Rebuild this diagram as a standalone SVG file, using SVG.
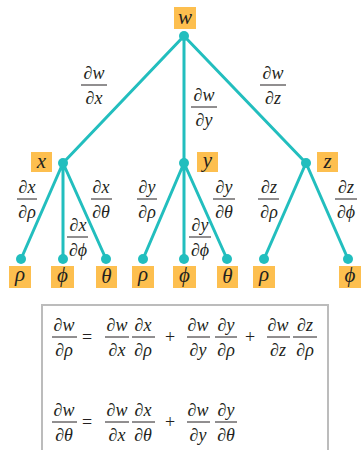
<svg xmlns="http://www.w3.org/2000/svg" width="361" height="450" viewBox="0 0 361 450">
<style>
.t{font-family:'Liberation Serif',serif;font-size:18px;fill:#231f20;text-anchor:middle}
.b{font-size:21px}
.i{font-style:italic}
.box{fill:#fdbf4f}
.bar{stroke:#231f20;stroke-width:1}
.e{stroke:#22bebe;stroke-width:3;fill:none}
.dot{fill:#22bebe}
</style>
<rect width="361" height="450" fill="#fff"/>
<g id="connectors">
<path class="e" d="M184,36L63,163M184,36L184,163M184,36L306,163M63,163L21,259M63,163L63,259M63,163L106,259M184,163L143,259M184,163L184,259M184,163L227,259M306,163L264,259M306,163L348,259"/>
</g>
<g id="n-w"><rect class="box" x="174" y="7" width="22" height="22"/><text class="t b i" x="185" y="24">w</text><circle class="dot" cx="184" cy="36" r="5"/></g>
<g id="n-x"><rect class="box" x="31" y="152" width="21" height="20"/><text class="t b i" x="41.5" y="168">x</text><circle class="dot" cx="63" cy="163" r="5"/></g>
<g id="n-y"><rect class="box" x="197" y="152" width="21" height="20"/><text class="t b i" x="207.5" y="167">y</text><circle class="dot" cx="184" cy="163" r="5"/></g>
<g id="n-z"><rect class="box" x="317" y="152" width="21" height="20"/><text class="t b i" x="327.5" y="168">z</text><circle class="dot" cx="306" cy="163" r="5"/></g>
<g id="n-rho1"><rect class="box" x="9" y="266" width="22" height="22"/><text class="t b i" x="20" y="281">ρ</text><circle class="dot" cx="21" cy="259" r="5"/></g>
<g id="n-phi1"><rect class="box" x="51" y="266" width="23" height="22"/><text class="t b i" x="62.5" y="282">ϕ</text><circle class="dot" cx="63" cy="259" r="5"/></g>
<g id="n-theta1"><rect class="box" x="96" y="266" width="21" height="22"/><text class="t b i" x="106.5" y="283">θ</text><circle class="dot" cx="106" cy="259" r="5"/></g>
<g id="n-rho2"><rect class="box" x="132" y="266" width="22" height="22"/><text class="t b i" x="143" y="281">ρ</text><circle class="dot" cx="143" cy="259" r="5"/></g>
<g id="n-phi2"><rect class="box" x="173" y="266" width="23" height="22"/><text class="t b i" x="184.5" y="282">ϕ</text><circle class="dot" cx="184" cy="259" r="5"/></g>
<g id="n-theta2"><rect class="box" x="217" y="266" width="21" height="22"/><text class="t b i" x="227.5" y="283">θ</text><circle class="dot" cx="227" cy="259" r="5"/></g>
<g id="n-rho3"><rect class="box" x="253" y="266" width="22" height="22"/><text class="t b i" x="264" y="281">ρ</text><circle class="dot" cx="264" cy="259" r="5"/></g>
<g id="n-phi3"><rect class="box" x="339" y="266" width="22" height="22"/><text class="t b i" x="350" y="282">ϕ</text><circle class="dot" cx="348" cy="259" r="5"/></g>
<g id="labels">
<text class="t" x="94" y="79">∂<tspan class="i">w</tspan></text><line class="bar" x1="81" y1="85" x2="107" y2="85"/><text class="t" x="94" y="104">∂<tspan class="i">x</tspan></text>
<text class="t" x="204" y="101">∂<tspan class="i">w</tspan></text><line class="bar" x1="191" y1="107" x2="217" y2="107"/><text class="t" x="204" y="126">∂<tspan class="i">y</tspan></text>
<text class="t" x="273" y="79">∂<tspan class="i">w</tspan></text><line class="bar" x1="260" y1="85" x2="286" y2="85"/><text class="t" x="273" y="104">∂<tspan class="i">z</tspan></text>
<text class="t" x="27" y="193">∂<tspan class="i">x</tspan></text><line class="bar" x1="17" y1="199" x2="37" y2="199"/><text class="t" x="27" y="218">∂<tspan class="i">ρ</tspan></text>
<text class="t" x="101" y="193">∂<tspan class="i">x</tspan></text><line class="bar" x1="91" y1="199" x2="112" y2="199"/><text class="t" x="101" y="218">∂<tspan class="i">θ</tspan></text>
<text class="t" x="78" y="231">∂<tspan class="i">x</tspan></text><line class="bar" x1="67" y1="237" x2="88" y2="237"/><text class="t" x="78" y="256">∂<tspan class="i">ϕ</tspan></text>
<text class="t" x="147" y="193">∂<tspan class="i">y</tspan></text><line class="bar" x1="137" y1="199" x2="157" y2="199"/><text class="t" x="147" y="218">∂<tspan class="i">ρ</tspan></text>
<text class="t" x="224" y="193">∂<tspan class="i">y</tspan></text><line class="bar" x1="213" y1="199" x2="235" y2="199"/><text class="t" x="224" y="218">∂<tspan class="i">θ</tspan></text>
<text class="t" x="200" y="231">∂<tspan class="i">y</tspan></text><line class="bar" x1="189" y1="237" x2="211" y2="237"/><text class="t" x="200" y="256">∂<tspan class="i">ϕ</tspan></text>
<text class="t" x="269" y="193">∂<tspan class="i">z</tspan></text><line class="bar" x1="258" y1="199" x2="279" y2="199"/><text class="t" x="269" y="218">∂<tspan class="i">ρ</tspan></text>
<text class="t" x="346" y="193">∂<tspan class="i">z</tspan></text><line class="bar" x1="335" y1="199" x2="357" y2="199"/><text class="t" x="346" y="218">∂<tspan class="i">ϕ</tspan></text>
</g>
<g id="formula">
<rect x="42" y="305" width="286" height="150" fill="none" stroke="#bcbcbc" stroke-width="2"/>
<text class="t" x="64" y="331">∂<tspan class="i">w</tspan></text><line class="bar" x1="52" y1="337" x2="77" y2="337"/><text class="t" x="64" y="356">∂<tspan class="i">ρ</tspan></text>
<text class="t" x="87" y="343">=</text>
<text class="t" x="117" y="331">∂<tspan class="i">w</tspan></text><line class="bar" x1="105" y1="337" x2="129" y2="337"/><text class="t" x="117" y="356">∂<tspan class="i">x</tspan></text>
<text class="t" x="143" y="331">∂<tspan class="i">x</tspan></text><line class="bar" x1="132" y1="337" x2="155" y2="337"/><text class="t" x="143" y="356">∂<tspan class="i">ρ</tspan></text>
<text class="t" x="170" y="343">+</text>
<text class="t" x="198" y="331">∂<tspan class="i">w</tspan></text><line class="bar" x1="187" y1="337" x2="210" y2="337"/><text class="t" x="198" y="356">∂<tspan class="i">y</tspan></text>
<text class="t" x="226" y="331">∂<tspan class="i">y</tspan></text><line class="bar" x1="215" y1="337" x2="237" y2="337"/><text class="t" x="226" y="356">∂<tspan class="i">ρ</tspan></text>
<text class="t" x="250" y="343">+</text>
<text class="t" x="278" y="331">∂<tspan class="i">w</tspan></text><line class="bar" x1="267" y1="337" x2="290" y2="337"/><text class="t" x="278" y="356">∂<tspan class="i">z</tspan></text>
<text class="t" x="305" y="331">∂<tspan class="i">z</tspan></text><line class="bar" x1="293" y1="337" x2="317" y2="337"/><text class="t" x="305" y="356">∂<tspan class="i">ρ</tspan></text>
<text class="t" x="64" y="416">∂<tspan class="i">w</tspan></text><line class="bar" x1="52" y1="422" x2="77" y2="422"/><text class="t" x="64" y="441">∂<tspan class="i">θ</tspan></text>
<text class="t" x="87" y="428">=</text>
<text class="t" x="117" y="416">∂<tspan class="i">w</tspan></text><line class="bar" x1="105" y1="422" x2="129" y2="422"/><text class="t" x="117" y="441">∂<tspan class="i">x</tspan></text>
<text class="t" x="143" y="416">∂<tspan class="i">x</tspan></text><line class="bar" x1="132" y1="422" x2="155" y2="422"/><text class="t" x="143" y="441">∂<tspan class="i">θ</tspan></text>
<text class="t" x="170" y="428">+</text>
<text class="t" x="198" y="416">∂<tspan class="i">w</tspan></text><line class="bar" x1="187" y1="422" x2="210" y2="422"/><text class="t" x="198" y="441">∂<tspan class="i">y</tspan></text>
<text class="t" x="226" y="416">∂<tspan class="i">y</tspan></text><line class="bar" x1="215" y1="422" x2="237" y2="422"/><text class="t" x="226" y="441">∂<tspan class="i">θ</tspan></text>
</g>
</svg>
